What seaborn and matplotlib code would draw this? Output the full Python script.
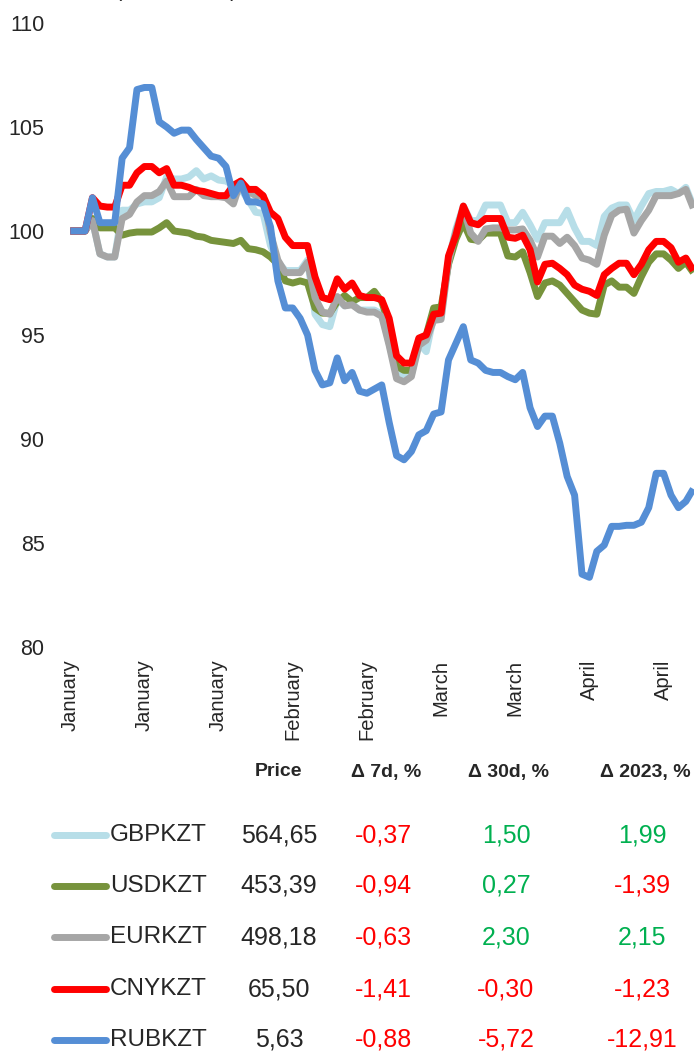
import numpy as np
import pandas as pd
import matplotlib
matplotlib.use("Agg")
import matplotlib.pyplot as plt
import seaborn as sns
from matplotlib.lines import Line2D

# Currency pairs and colours (legend order = drawing order)
pairs = ["GBPKZT", "USDKZT", "EURKZT", "CNYKZT", "RUBKZT"]
colors = ["#B7DEE8", "#77933C", "#A6A6A6", "#FF0000", "#558ED5"]

# Index values, start of year = 100
gbp = [100, 100, 100, 100.5, 98.9, 98.75, 98.75, 101.0, 101.0, 101.3,
       101.4, 101.4, 101.6, 102.6, 102.5, 102.5, 102.6, 102.9, 102.5, 102.65,
       102.45, 102.4, 102.2, 102.0, 101.5, 100.9, 100.85, 99.3, 98.5, 98.1,
       98.1, 98.1, 98.6, 96.0, 95.5, 95.4, 96.7, 96.4, 96.5, 96.2,
       96.2, 96.2, 96.0, 94.6, 93.1, 93.0, 93.1, 94.6, 94.2, 95.9,
       95.9, 98.6, 100.1, 101.2, 100.5, 100.5, 101.25, 101.25, 101.25, 100.4,
       100.4, 100.9, 100.3, 99.6, 100.4, 100.4, 100.4, 101.0, 100.15, 99.5,
       99.5, 99.3, 100.7, 101.1, 101.25, 101.25, 100.5, 101.2, 101.8, 101.9,
       101.9, 102.0, 101.8, 102.1, 101.2]
usd = [100, 100, 100, 100.6, 100.15, 100.15, 100.15, 99.8, 99.9, 99.95,
       99.95, 99.95, 100.15, 100.4, 100.0, 99.95, 99.9, 99.75, 99.7, 99.55,
       99.5, 99.45, 99.4, 99.55, 99.15, 99.1, 99.0, 98.75, 98.4, 97.6,
       97.5, 97.6, 97.5, 96.3, 96.05, 96.05, 96.6, 96.9, 96.6, 96.8,
       96.8, 97.1, 96.6, 95.5, 93.5, 93.3, 93.3, 94.75, 95.0, 96.3,
       96.35, 98.4, 99.6, 100.4, 99.6, 99.55, 99.9, 99.9, 99.9, 98.8,
       98.75, 99.0, 98.0, 96.85, 97.5, 97.6, 97.4, 97.0, 96.6, 96.2,
       96.05, 96.0, 97.4, 97.6, 97.3, 97.3, 97.0, 97.8, 98.5, 98.9,
       98.9, 98.6, 98.2, 98.5, 98.0]
eur = [100, 100, 100, 100.5, 98.9, 98.75, 98.75, 100.6, 100.8, 101.4,
       101.7, 101.7, 101.9, 102.4, 101.65, 101.65, 101.65, 102.0, 101.7, 101.65,
       101.65, 101.6, 101.3, 102.4, 101.9, 101.7, 101.7, 99.9, 98.6, 98.0,
       98.0, 98.0, 98.5, 96.8, 96.1, 96.0, 96.85, 96.4, 96.45, 96.2,
       96.1, 96.1, 95.9, 94.5, 92.9, 92.75, 93.0, 94.5, 94.75, 95.7,
       95.75, 98.5, 100.0, 101.1, 99.9, 99.5, 100.1, 100.15, 100.15, 100.05,
       100.05, 100.1, 99.55, 98.75, 99.75, 99.75, 99.4, 99.7, 99.3, 98.7,
       98.6, 98.4, 99.8, 100.75, 101.0, 101.05, 99.9, 100.5, 101.0, 101.7,
       101.7, 101.7, 101.8, 102.0, 101.1]
cny = [100, 100, 100, 101.6, 101.2, 101.15, 101.15, 102.2, 102.2, 102.8,
       103.1, 103.1, 102.8, 103.0, 102.2, 102.2, 102.1, 101.95, 101.9, 101.8,
       101.7, 101.7, 102.2, 102.4, 102.0, 102.0, 101.7, 100.9, 100.6, 99.7,
       99.3, 99.3, 99.3, 97.8, 96.8, 96.7, 97.7, 97.2, 97.5, 96.9,
       96.8, 96.8, 96.7, 95.8, 94.0, 93.65, 93.65, 94.85, 95.0, 96.0,
       96.05, 98.8, 99.8, 101.2, 100.4, 100.3, 100.6, 100.6, 100.6, 99.7,
       99.65, 99.8, 99.1, 97.55, 98.4, 98.45, 98.2, 97.9, 97.4, 97.2,
       97.1, 96.9, 97.9, 98.2, 98.45, 98.45, 97.9, 98.4, 99.1, 99.5,
       99.5, 99.2, 98.5, 98.7, 98.1]
rub = [100, 100, 100, 101.6, 100.4, 100.4, 100.4, 103.5, 104.0, 106.8,
       106.9, 106.9, 105.25, 105.0, 104.7, 104.85, 104.85, 104.4, 104.0, 103.6,
       103.5, 103.1, 101.7, 102.3, 101.4, 101.4, 101.3, 100.2, 97.6, 96.3,
       96.3, 95.8, 95.0, 93.3, 92.6, 92.7, 93.9, 92.8, 93.2, 92.3,
       92.2, 92.4, 92.6, 90.8, 89.2, 89.0, 89.4, 90.2, 90.4, 91.2,
       91.3, 93.8, 94.6, 95.4, 93.8, 93.65, 93.3, 93.2, 93.2, 93.0,
       92.85, 93.2, 91.5, 90.6, 91.1, 91.1, 89.8, 88.2, 87.3, 83.5,
       83.35, 84.6, 84.9, 85.8, 85.8, 85.85, 85.85, 86.0, 86.7, 88.35,
       88.35, 87.3, 86.7, 87.0, 87.6]

tick_pos = [0, 10, 20, 30, 40, 50, 60, 70, 80]
tick_labels = ["January", "January", "January", "February", "February",
               "March", "March", "April", "April"]

# Table below the chart
headers = ["Price", "Δ 7d, %", "Δ 30d, %", "Δ 2023, %"]
price = ["564,65", "453,39", "498,18", "65,50", "5,63"]
chg_7d = [-0.37, -0.94, -0.63, -1.41, -0.88]
chg_30d = [1.50, 0.27, 2.30, -0.30, -5.72]
chg_ytd = [1.99, -1.39, 2.15, -1.23, -12.91]

series = [gbp, usd, eur, cny, rub]
df = pd.concat(
    [pd.DataFrame({"day": np.arange(len(v)), "value": v, "pair": p})
     for p, v in zip(pairs, series)],
    ignore_index=True,
)

sns.set_style("white")
plt.rcParams["font.family"] = ["Liberation Sans", "DejaVu Sans"]

W, H = 694, 1053
fig = plt.figure(figsize=(W / 100, H / 100), dpi=100)
ax = fig.add_axes([68 / W, 1 - 647 / H, 1 - 68 / W, (647 - 23) / H])

sns.lineplot(data=df, x="day", y="value", hue="pair", hue_order=pairs,
             palette=colors, linewidth=5, legend=False, sort=False, ax=ax)
for ln in ax.get_lines():
    ln.set_solid_joinstyle("round")
    ln.set_solid_capstyle("butt")

ax.set_ylim(80, 110)
ax.set_yticks(range(80, 111, 5))
ax.set_xlim(-0.3, 84.1)
ax.set_xticks(tick_pos)
ax.set_xticklabels(tick_labels, rotation=90, fontsize=14.5)
ax.tick_params(axis="y", labelsize=15.5, length=0, pad=17)
ax.tick_params(axis="x", length=0, pad=9)
ax.set_xlabel("")
ax.set_ylabel("")
sns.despine(ax=ax, left=True, bottom=True)

# caption that is cut off by the top edge in the original
fig.text(8 / W, 1 + 4 / H, "KZT, index (01.01.2023)", fontsize=15.5, va="baseline")


def fx(x):
    return x / W


def fy(y):
    return 1 - y / H


col_x = [279, 386, 509, 645]
for cx, h in zip(col_x, headers):
    fig.text(fx(cx), fy(772), h, ha="center", va="center", fontsize=14, fontweight="bold")

row_y = [835, 886, 937, 989, 1040]
green, red = "#00B050", "#FF0000"
for i, (p, c) in enumerate(zip(pairs, colors)):
    y = fy(row_y[i])
    fig.add_artist(Line2D([fx(54), fx(106)], [y, y], color=c, lw=5,
                          solid_capstyle="round", transform=fig.transFigure))
    fig.text(fx(110), y, p, ha="left", va="center", fontsize=17.5)
    fig.text(fx(col_x[0]), y, price[i], ha="center", va="center", fontsize=18)
    for cx, vals in zip(col_x[1:], [chg_7d, chg_30d, chg_ytd]):
        v = vals[i]
        txt = f"{v:.2f}".replace(".", ",")
        fig.text(fx(cx - 3), y, txt, ha="center", va="center", fontsize=18,
                 color=green if v >= 0 else red)

fig.savefig("out.png", dpi=100)
